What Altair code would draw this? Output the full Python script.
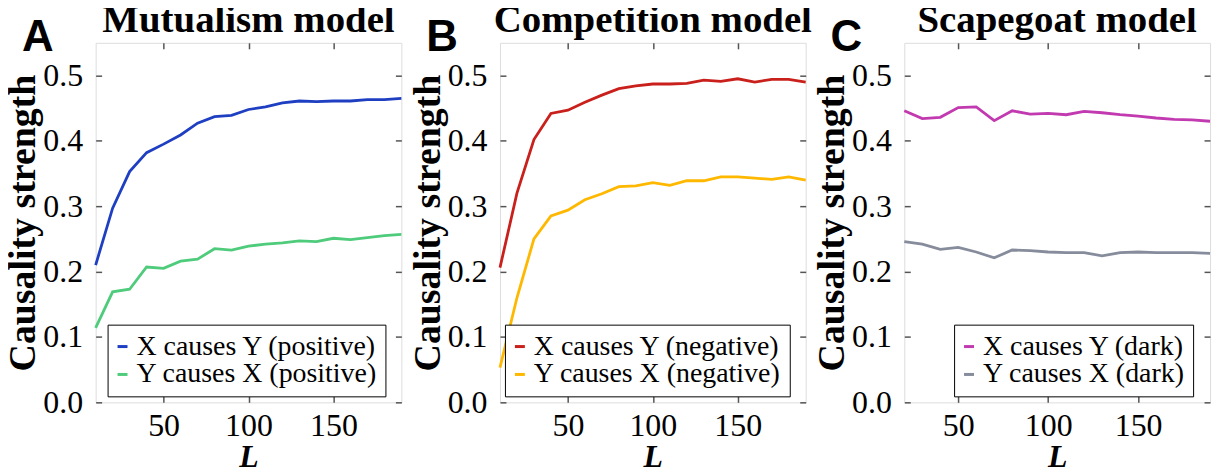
import altair as alt
import pandas as pd

# ---- data ----
L_AB = [10, 20, 30, 40, 50, 60, 70, 80, 90, 100, 110, 120, 130, 140, 150, 160, 170, 180, 190]
L_C = [20, 30, 40, 50, 60, 70, 80, 90, 100, 110, 120, 130, 140, 150, 160, 170, 180, 190]

mut_xy = [0.210, 0.297, 0.353, 0.382, 0.395, 0.409, 0.427, 0.437, 0.439, 0.448,
          0.452, 0.458, 0.461, 0.460, 0.461, 0.461, 0.463, 0.463, 0.465]
mut_yx = [0.114, 0.169, 0.173, 0.207, 0.205, 0.216, 0.219, 0.235, 0.233, 0.239,
          0.242, 0.244, 0.247, 0.246, 0.251, 0.249, 0.252, 0.255, 0.257]
comp_xy = [0.206, 0.320, 0.402, 0.442, 0.447, 0.459, 0.470, 0.480, 0.484, 0.487,
           0.487, 0.488, 0.493, 0.491, 0.495, 0.490, 0.494, 0.494, 0.490]
comp_yx = [0.053, 0.160, 0.250, 0.285, 0.294, 0.310, 0.319, 0.330, 0.331, 0.336,
           0.332, 0.339, 0.339, 0.345, 0.345, 0.343, 0.341, 0.345, 0.340]
scape_xy = [0.446, 0.434, 0.436, 0.451, 0.452, 0.431, 0.446, 0.441, 0.442, 0.440,
            0.445, 0.443, 0.440, 0.438, 0.435, 0.433, 0.432, 0.430]
scape_yx = [0.246, 0.242, 0.234, 0.237, 0.230, 0.221, 0.233, 0.232, 0.230, 0.229,
            0.229, 0.224, 0.229, 0.230, 0.229, 0.229, 0.229, 0.228]

labels_A = ["X causes Y (positive)", "Y causes X (positive)"]
labels_B = ["X causes Y (negative)", "Y causes X (negative)"]
labels_C = ["X causes Y (dark)", "Y causes X (dark)"]
colors_A = ["#1f3fc2", "#4ecb7b"]
colors_B = ["#c9201c", "#ffb800"]
colors_C = ["#c23ab0", "#868c9c"]
titles = ["Mutualism model", "Competition model", "Scapegoat model"]
letters = ["A", "B", "C"]
y_ticks = [0.0, 0.1, 0.2, 0.3, 0.4, 0.5]
x_ticks = [50, 100, 150]

W, H = 307, 361
SERIF = "Liberation Serif"


def long_df(L, a, b, labels):
    return pd.DataFrame({
        "L": list(L) + list(L),
        "value": list(a) + list(b),
        "series": [labels[0]] * len(L) + [labels[1]] * len(L),
    })


def panel(df, xdom, labels, colors, title, letter, legend_x):
    xs = alt.Scale(domain=xdom, nice=False, zero=False)
    ys = alt.Scale(domain=[0, 0.55], nice=False, zero=False)
    base = alt.Chart(df)
    lines = base.mark_line(strokeWidth=2.8).encode(
        x=alt.X("L:Q", scale=xs, axis=alt.Axis(
            values=x_ticks, title="L", ticks=False, domain=False, grid=False,
            labelFont=SERIF, labelFontSize=32, labelColor="black", labelPadding=8,
            titleFont=SERIF, titleFontSize=32, titleFontWeight="bold",
            titleFontStyle="italic", titleColor="black", titlePadding=0)),
        y=alt.Y("value:Q", scale=ys, axis=alt.Axis(
            values=y_ticks, format=".1f", title="Causality strength", ticks=False,
            domain=False, grid=False,
            labelFont=SERIF, labelFontSize=32, labelColor="black", labelPadding=13,
            titleFont=SERIF, titleFontSize=38, titleFontWeight="bold",
            titleColor="black", titlePadding=0)),
        color=alt.Color("series:N", scale=alt.Scale(domain=labels, range=colors),
                        legend=alt.Legend(
                            title=None, orient="none", legendX=legend_x, legendY=283,
                            symbolType="stroke", symbolStrokeWidth=3, symbolSize=100,
                            symbolOffset=-7,
                            labelFont=SERIF, labelFontSize=28, labelColor="black",
                            labelLimit=400,
                            strokeColor="black", fillColor="white", padding=8,
                            rowPadding=-8, labelOffset=0)),
    )
    tick_kw = dict(labels=False, title=None, domain=False, grid=False, ticks=True,
                   tickSize=6, tickColor="#555555", tickWidth=1.5)
    ticks_a = base.mark_line(opacity=0).encode(
        x=alt.X("L:Q", scale=xs, axis=alt.Axis(orient="top", offset=-H, values=x_ticks, **tick_kw)),
        y=alt.Y("value:Q", scale=ys, axis=alt.Axis(orient="right", offset=-W, values=y_ticks, **tick_kw)),
    )
    ticks_b = base.mark_line(opacity=0).encode(
        x=alt.X("L:Q", scale=xs, axis=alt.Axis(orient="bottom", offset=-H, values=x_ticks, **tick_kw)),
        y=alt.Y("value:Q", scale=ys, axis=alt.Axis(orient="left", offset=-W, values=y_ticks, **tick_kw)),
    )
    letter_mark = alt.Chart(pd.DataFrame({"t": [letter]})).mark_text(
        font="Liberation Sans", fontSize=44, fontWeight="bold", align="left",
        baseline="alphabetic", color="black"
    ).encode(text="t:N", x=alt.value(-74), y=alt.value(8))

    return alt.layer(lines, ticks_a, ticks_b, letter_mark).resolve_axis(
        x="independent", y="independent"
    ).properties(
        width=W, height=H,
        title=alt.TitleParams(title, font=SERIF, fontSize=39, fontWeight="bold",
                              anchor="middle", frame="group", color="black",
                              baseline="alphabetic", offset=-55),
    )


pA = panel(long_df(L_AB, mut_xy, mut_yx, labels_A), [10, 190], labels_A, colors_A, titles[0], letters[0], 12)
pB = panel(long_df(L_AB, comp_xy, comp_yx, labels_B), [10, 190], labels_B, colors_B, titles[1], letters[1], 5)
pC = panel(long_df(L_C, scape_xy, scape_yx, labels_C), [20, 190], labels_C, colors_C, titles[2], letters[2], 50)

chart = alt.hconcat(pA, pB, pC, spacing=99, bounds="flush").resolve_scale(
    color="independent"
).resolve_legend(color="independent").properties(
    padding={"left": -4, "top": -9, "right": 0, "bottom": 0}
).configure_view(stroke="#222222", strokeWidth=2).configure(background="white")

chart.save("out.html", embed_options={"renderer": "svg", "actions": False})
